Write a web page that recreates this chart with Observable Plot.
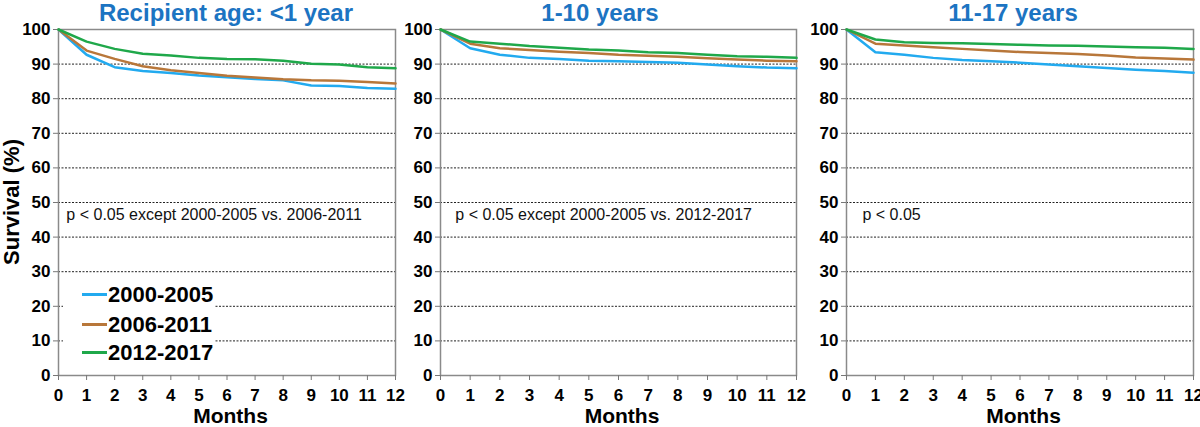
<!DOCTYPE html>
<html><head><meta charset="utf-8">
<script src="https://cdn.jsdelivr.net/npm/d3@7"></script>
<script src="https://cdn.jsdelivr.net/npm/@observablehq/plot@0.6"></script>
<style>
body{margin:0;background:#fff;font-family:"Liberation Sans",Arial,sans-serif;}
#wrap{position:relative;width:1200px;height:427px;overflow:hidden;background:#fff;}
.panel{position:absolute;top:0;}
.panel svg{overflow:visible;}
.title{position:absolute;top:1px;font-weight:bold;font-size:24px;color:#1c74c2;transform:translateX(-50%);white-space:nowrap;line-height:24px;}
.xlab{position:absolute;top:406px;font-weight:bold;font-size:21px;color:#000;transform:translateX(-50%);white-space:nowrap;line-height:20px;}
.ylab{position:absolute;left:12px;top:202px;font-weight:bold;font-size:22px;color:#000;transform:translate(-50%,-50%) rotate(-90deg);white-space:nowrap;line-height:24px;}
#legend{position:absolute;left:63px;top:281px;width:152px;height:87px;background:#fff;}
.li{position:absolute;left:19px;height:24px;font-weight:bold;font-size:22px;line-height:24px;color:#000;white-space:nowrap;}
.li span{display:inline-block;width:25px;height:3px;vertical-align:middle;margin-right:1px;position:relative;top:-2px;}
</style>
</head><body>
<div id="wrap"></div>
<script>
// ---- data ----
const months = [0,1,2,3,4,5,6,7,8,9,10,11,12];
const periods = ["2000-2005","2006-2011","2012-2017"];
const periodColors = ["#22aaef","#b8773a","#1fa84a"];
const panelTitles = ["Recipient age: <1 year","1-10 years","11-17 years"];
const panelNotes = ["p < 0.05 except 2000-2005 vs. 2006-2011","p < 0.05 except 2000-2005 vs. 2012-2017","p < 0.05"];
const yTicks = [0,10,20,30,40,50,60,70,80,90,100];
const gridLines = [10,20,30,40,50,60,70,80,90];

// Recipient age <1 year
const under1_2000_2005 = [100,92.7,89.1,88.0,87.4,86.7,86.2,85.7,85.3,83.8,83.7,83.1,82.9];
const under1_2006_2011 = [100,93.9,91.5,89.4,88.2,87.4,86.6,86.1,85.6,85.3,85.2,84.8,84.4];
const under1_2012_2017 = [100,96.5,94.4,93.0,92.5,91.8,91.5,91.4,91.0,90.1,89.9,89.1,88.8];
// 1-10 years
const age1to10_2000_2005 = [100,94.6,92.7,91.8,91.5,91.0,90.8,90.6,90.4,89.9,89.4,89.0,88.8];
const age1to10_2006_2011 = [100,95.9,94.6,94.1,93.6,93.2,92.7,92.4,92.1,91.7,91.3,91.0,90.8];
const age1to10_2012_2017 = [100,96.5,95.9,95.2,94.7,94.2,93.9,93.4,93.2,92.7,92.3,92.1,91.8];
// 11-17 years
const age11to17_2000_2005 = [100,93.4,92.7,91.8,91.2,90.8,90.4,89.9,89.4,88.9,88.4,88.0,87.5];
const age11to17_2006_2011 = [100,95.9,95.4,94.9,94.4,93.9,93.5,93.2,92.9,92.5,91.9,91.6,91.3];
const age11to17_2012_2017 = [100,97.1,96.3,96.1,96.0,95.8,95.6,95.4,95.3,95.1,94.9,94.7,94.4];

const panelSeries = [
  [under1_2000_2005, under1_2006_2011, under1_2012_2017],
  [age1to10_2000_2005, age1to10_2006_2011, age1to10_2012_2017],
  [age11to17_2000_2005, age11to17_2006_2011, age11to17_2012_2017]
];
const noteX = [0.28, 0.5, 0.55];
const noteY = 46.5;

// ---- layout ----
const layout = [
  {left:0, width:400, ml:58, mr:5, titleX:226},
  {left:400, width:400, ml:40, mr:4, titleX:600},
  {left:800, width:400, ml:46, mr:7, titleX:1013}
];

const wrap = document.getElementById("wrap");
layout.forEach((L, i) => {
  const rows = [];
  panelSeries[i].forEach((vals, s) => vals.forEach((v, k) => rows.push({month: months[k], value: v, period: periods[s]})));
  const chart = Plot.plot({
    width: L.width, height: 427,
    marginLeft: L.ml, marginRight: L.mr, marginTop: 29, marginBottom: 52,
    x: {domain: [0, 12]},
    y: {domain: [0, 100]},
    color: {domain: periods, range: periodColors},
    style: {fontFamily: '"Liberation Sans", Arial, sans-serif', fontSize: "17px", fontWeight: "bold", color: "#000", background: "transparent", overflow: "visible"},
    marks: [
      Plot.ruleY(gridLines, {stroke: "#222", strokeDasharray: "2,1.5", strokeWidth: 1}),
      Plot.frame({stroke: "#8a8a8a", strokeWidth: 1.5}),
      Plot.axisX({ticks: months, tickSize: 5, tickPadding: 8, tickFormat: d => String(d), label: null, stroke: "#777"}),
      Plot.axisY({ticks: yTicks, tickSize: 5, tickPadding: 3, tickFormat: d => String(d), label: null, stroke: "#777"}),
      Plot.text([panelNotes[i]], {x: noteX[i], y: noteY, text: d => d, textAnchor: "start", fontSize: 16, fontWeight: "normal", fill: "#111"}),
      Plot.line(rows, {x: "month", y: "value", z: "period", stroke: "period", strokeWidth: 2.5, strokeLinejoin: "round"})
    ]
  });
  const div = document.createElement("div");
  div.className = "panel";
  div.style.left = L.left + "px";
  div.appendChild(chart);
  wrap.appendChild(div);

  const t = document.createElement("div");
  t.className = "title";
  t.style.left = L.titleX + "px";
  t.textContent = panelTitles[i];
  wrap.appendChild(t);

  const xl = document.createElement("div");
  xl.className = "xlab";
  xl.style.left = (L.left + L.ml + (L.width - L.ml - L.mr) / 2 + 4) + "px";
  xl.textContent = "Months";
  wrap.appendChild(xl);
});

const yl = document.createElement("div");
yl.className = "ylab";
yl.textContent = "Survival (%)";
wrap.appendChild(yl);

const leg = document.createElement("div");
leg.id = "legend";
const legTops = [2, 32, 60];
periods.forEach((p, s) => {
  const it = document.createElement("div");
  it.className = "li";
  it.style.top = legTops[s] + "px";
  const sw = document.createElement("span");
  sw.style.background = periodColors[s];
  it.appendChild(sw);
  it.appendChild(document.createTextNode(p));
  leg.appendChild(it);
});
wrap.appendChild(leg);
</script>
</body></html>
